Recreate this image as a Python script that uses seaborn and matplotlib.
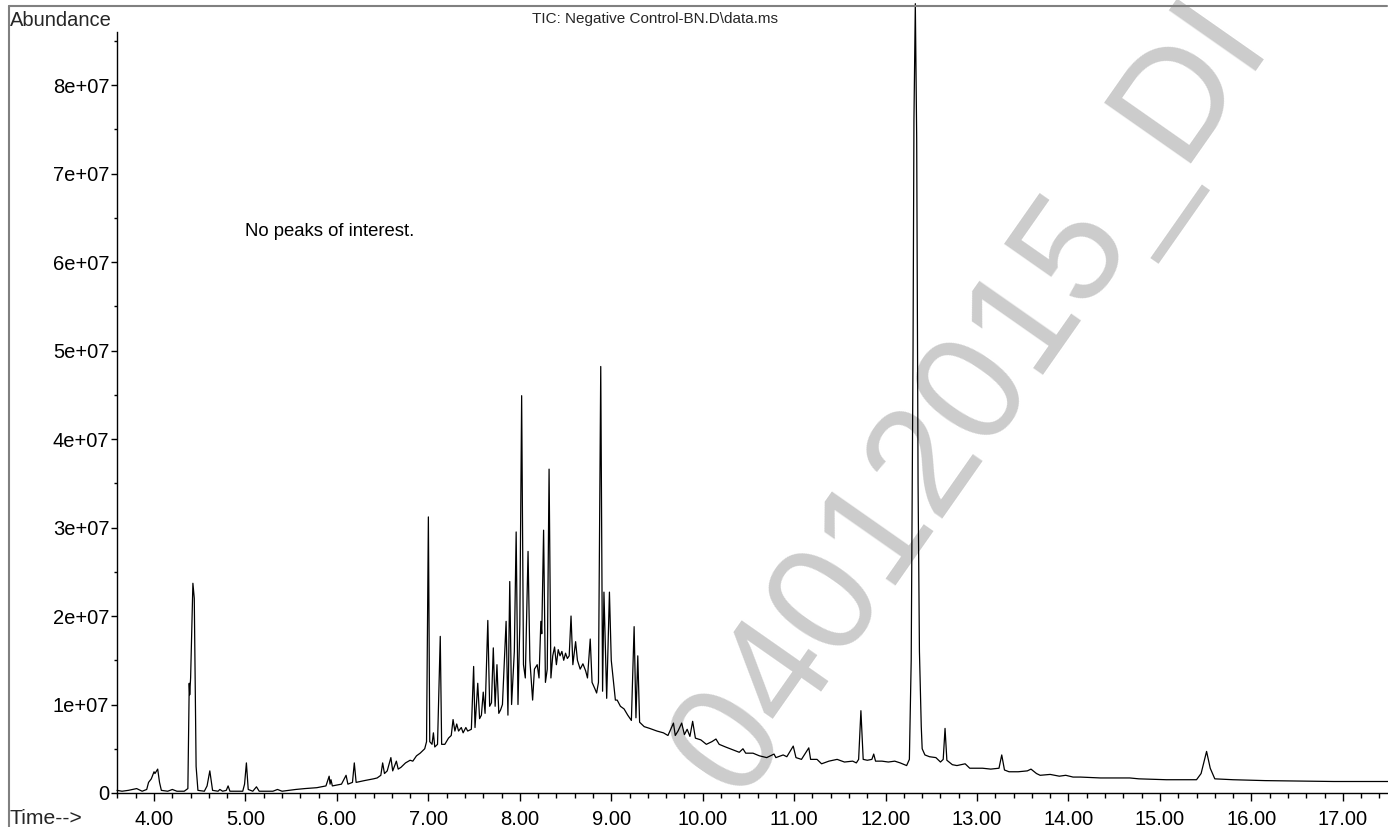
import matplotlib
matplotlib.use("Agg")
import matplotlib.pyplot as plt
import seaborn as sns
import numpy as np
import pandas as pd
from matplotlib.ticker import FixedLocator, FixedFormatter, MultipleLocator
from matplotlib.lines import Line2D

# ---------------- data ----------------
time_min = [
    3.595, 3.65, 3.72, 3.81, 3.87, 3.92, 3.94, 3.97, 4.00, 4.01, 4.04, 4.06, 4.08, 4.15, 4.20, 4.25,
    4.33, 4.37, 4.385, 4.39, 4.40, 4.425, 4.44, 4.46, 4.48, 4.55, 4.58, 4.61, 4.64, 4.70, 4.72, 4.75,
    4.79, 4.81, 4.83, 4.97, 4.99, 5.01, 5.03, 5.08, 5.12, 5.15, 5.30, 5.35, 5.40, 5.55, 5.65, 5.78,
    5.88, 5.915, 5.925, 5.935, 5.95, 6.05, 6.10, 6.12, 6.17, 6.19, 6.21, 6.30, 6.40, 6.44, 6.48, 6.50,
    6.52, 6.55, 6.59, 6.61, 6.65, 6.67, 6.70, 6.75, 6.80, 6.83, 6.87, 6.91, 6.96, 6.98, 7.00, 7.015,
    7.04, 7.055, 7.07, 7.10, 7.13, 7.145, 7.18, 7.22, 7.25, 7.27, 7.29, 7.31, 7.33, 7.36, 7.38, 7.41,
    7.43, 7.47, 7.495, 7.51, 7.54, 7.56, 7.58, 7.60, 7.62, 7.65, 7.67, 7.69, 7.71, 7.73, 7.75, 7.77,
    7.79, 7.81, 7.85, 7.87, 7.89, 7.91, 7.94, 7.96, 7.98, 8.00, 8.02, 8.04, 8.06, 8.09, 8.11, 8.14,
    8.16, 8.19, 8.21, 8.23, 8.24, 8.26, 8.28, 8.30, 8.32, 8.34, 8.36, 8.38, 8.40, 8.42, 8.44, 8.46,
    8.48, 8.50, 8.52, 8.54, 8.56, 8.58, 8.61, 8.63, 8.66, 8.69, 8.72, 8.74, 8.77, 8.79, 8.82, 8.84,
    8.86, 8.885, 8.905, 8.92, 8.95, 8.98, 9.00, 9.02, 9.045, 9.065, 9.10, 9.14, 9.18, 9.22, 9.25, 9.27,
    9.29, 9.31, 9.36, 9.42, 9.50, 9.57, 9.62, 9.68, 9.70, 9.73, 9.77, 9.80, 9.83, 9.86, 9.89, 9.92,
    9.98, 10.04, 10.10, 10.145, 10.18, 10.25, 10.30, 10.35, 10.40, 10.44, 10.47, 10.55, 10.62, 10.70, 10.78, 10.80,
    10.88, 10.92, 10.99, 11.02, 11.08, 11.16, 11.18, 11.25, 11.30, 11.38, 11.47, 11.55, 11.64, 11.68, 11.705, 11.73,
    11.755, 11.80, 11.85, 11.87, 11.89, 11.96, 12.03, 12.10, 12.16, 12.23, 12.26, 12.28, 12.30, 12.31, 12.325, 12.34,
    12.355, 12.37, 12.39, 12.40, 12.43, 12.48, 12.55, 12.60, 12.63, 12.65, 12.67, 12.73, 12.78, 12.87, 12.92, 13.00,
    13.06, 13.15, 13.24, 13.27, 13.30, 13.35, 13.45, 13.55, 13.59, 13.65, 13.69, 13.80, 13.90, 13.97, 14.05, 14.13,
    14.35, 14.67, 14.77, 15.07, 15.40, 15.45, 15.51, 15.55, 15.60, 15.80, 16.15, 16.50, 16.90, 17.30, 17.494,
]
abundance_e7 = [
    0.03, 0.02, 0.03, 0.05, 0.02, 0.04, 0.12, 0.16, 0.24, 0.22, 0.27, 0.12, 0.03, 0.02, 0.04, 0.02,
    0.02, 0.05, 1.24, 1.11, 1.30, 2.37, 2.20, 0.30, 0.03, 0.02, 0.08, 0.25, 0.03, 0.02, 0.04, 0.02,
    0.03, 0.08, 0.02, 0.02, 0.10, 0.34, 0.04, 0.02, 0.07, 0.02, 0.02, 0.04, 0.02, 0.04, 0.05, 0.06,
    0.08, 0.19, 0.10, 0.15, 0.08, 0.10, 0.20, 0.10, 0.12, 0.34, 0.12, 0.14, 0.16, 0.17, 0.20, 0.34,
    0.22, 0.25, 0.40, 0.25, 0.36, 0.27, 0.29, 0.34, 0.37, 0.36, 0.42, 0.45, 0.50, 0.58, 3.12, 0.58,
    0.55, 0.68, 0.52, 0.55, 1.77, 0.55, 0.55, 0.62, 0.65, 0.83, 0.70, 0.78, 0.70, 0.74, 0.68, 0.74,
    0.70, 0.72, 1.43, 0.74, 1.24, 0.84, 0.88, 1.14, 0.90, 1.95, 0.98, 1.02, 1.64, 0.98, 1.45, 0.90,
    0.94, 1.00, 1.94, 0.88, 2.39, 1.00, 1.60, 2.95, 1.00, 1.90, 4.49, 1.45, 1.30, 2.73, 1.50, 1.05,
    1.40, 1.45, 1.30, 1.94, 1.80, 2.97, 1.25, 1.40, 3.66, 1.30, 1.55, 1.65, 1.45, 1.62, 1.55, 1.60,
    1.50, 1.58, 1.52, 1.55, 2.00, 1.45, 1.71, 1.50, 1.40, 1.46, 1.38, 1.30, 1.74, 1.25, 1.18, 1.13,
    1.25, 4.82, 1.15, 2.27, 1.07, 2.27, 1.50, 1.30, 1.05, 1.05, 0.98, 0.95, 0.88, 0.82, 1.88, 0.85,
    1.55, 0.80, 0.75, 0.73, 0.70, 0.68, 0.65, 0.79, 0.65, 0.70, 0.79, 0.66, 0.72, 0.64, 0.81, 0.62,
    0.60, 0.55, 0.58, 0.61, 0.55, 0.52, 0.50, 0.48, 0.46, 0.50, 0.45, 0.45, 0.42, 0.40, 0.44, 0.40,
    0.43, 0.41, 0.53, 0.40, 0.38, 0.51, 0.38, 0.38, 0.33, 0.36, 0.38, 0.35, 0.36, 0.34, 0.38, 0.93,
    0.38, 0.37, 0.38, 0.44, 0.36, 0.36, 0.35, 0.36, 0.34, 0.31, 0.38, 1.50, 5.00, 7.60, 8.92, 7.40,
    3.50, 1.60, 0.75, 0.50, 0.43, 0.41, 0.40, 0.35, 0.38, 0.73, 0.37, 0.32, 0.31, 0.33, 0.28, 0.28,
    0.28, 0.27, 0.28, 0.43, 0.26, 0.24, 0.24, 0.25, 0.27, 0.22, 0.20, 0.21, 0.19, 0.20, 0.18, 0.18,
    0.17, 0.17, 0.16, 0.15, 0.15, 0.22, 0.47, 0.28, 0.16, 0.15, 0.14, 0.135, 0.13, 0.13, 0.13,
]
x_major_ticks = [4, 5, 6, 7, 8, 9, 10, 11, 12, 13, 14, 15, 16, 17]
x_tick_labels = ["4.00", "5.00", "6.00", "7.00", "8.00", "9.00", "10.00", "11.00",
                 "12.00", "13.00", "14.00", "15.00", "16.00", "17.00"]
y_major_ticks = [0, 1e7, 2e7, 3e7, 4e7, 5e7, 6e7, 7e7, 8e7]
y_tick_labels = ["0", "1e+07", "2e+07", "3e+07", "4e+07", "5e+07", "6e+07", "7e+07", "8e+07"]
title_text = "TIC: Negative Control-BN.D\\data.ms"
note_text = "No peaks of interest."
watermark_text = "04012015_DI"

# ---------------- figure ----------------
sns.set_theme(style="ticks")
plt.rcParams['font.family'] = ['Liberation Sans', 'DejaVu Sans']

W, H = 1388, 827
fig = plt.figure(figsize=(W / 100, H / 100), dpi=100)
fig.patch.set_facecolor("white")

ax_left, ax_bottom_px, ax_top_px = 117, 793, 32
ax = fig.add_axes([ax_left / W, (H - ax_bottom_px) / H, 1 - ax_left / W,
                   (ax_bottom_px - ax_top_px) / H])
ax.set_facecolor("none")

df = pd.DataFrame({"Time": time_min, "Abundance": np.array(abundance_e7) * 1e7})
sns.lineplot(data=df, x="Time", y="Abundance", ax=ax, color="black",
             linewidth=0.9, clip_on=False, zorder=3)

ax.set_xlim(3.595, 17.494)
ax.set_ylim(0, 8.6e7)
ax.set_xlabel("")
ax.set_ylabel("")

for s in ["top", "right"]:
    ax.spines[s].set_visible(False)
for s in ["left", "bottom"]:
    ax.spines[s].set_color("black")
    ax.spines[s].set_linewidth(1.0)

ax.xaxis.set_major_locator(FixedLocator(x_major_ticks))
ax.xaxis.set_major_formatter(FixedFormatter(x_tick_labels))
ax.xaxis.set_minor_locator(MultipleLocator(0.2))
ax.yaxis.set_major_locator(FixedLocator(y_major_ticks))
ax.yaxis.set_major_formatter(FixedFormatter(y_tick_labels))
ax.yaxis.set_minor_locator(MultipleLocator(5e6))

ax.tick_params(axis="x", which="major", direction="out", length=6, width=1,
               color="black", labelsize=14.5, pad=6.5, labelcolor="black")
ax.tick_params(axis="x", which="minor", direction="out", length=3.5, width=1, color="black")
ax.tick_params(axis="y", which="major", direction="out", length=4, width=1,
               color="black", labelsize=14.5, pad=1.5, labelcolor="black")
ax.tick_params(axis="y", which="minor", direction="out", length=2.2, width=1, color="black")

ax.text(4.995, 6.29e7, note_text, fontsize=13.3, ha="left", va="baseline", color="black")

fig.text(10 / W, 1 - 26 / H, "Abundance", fontsize=14.5, ha="left", va="baseline")
fig.text(655 / W, 1 - 23 / H, title_text, fontsize=11, ha="center", va="baseline")
fig.text(10 / W, 1 - 824 / H, "Time-->", fontsize=15.2, ha="left", va="baseline")

# watermark
fig.text(972 / W, 1 - 398 / H, watermark_text, fontsize=111, color="#cccccc",
         rotation=55, ha="center", va="center", rotation_mode="anchor", zorder=-5)

# outer frame (top and left edges)
frame_kw = dict(color="#808080", linewidth=1.5, transform=fig.transFigure)
fig.add_artist(Line2D([9 / W, 1387 / W], [1 - 6 / H, 1 - 6 / H], **frame_kw))
fig.add_artist(Line2D([9 / W, 9 / W], [1 - 6 / H, 0], **frame_kw))

fig.savefig("out.png", dpi=100, facecolor="white")
